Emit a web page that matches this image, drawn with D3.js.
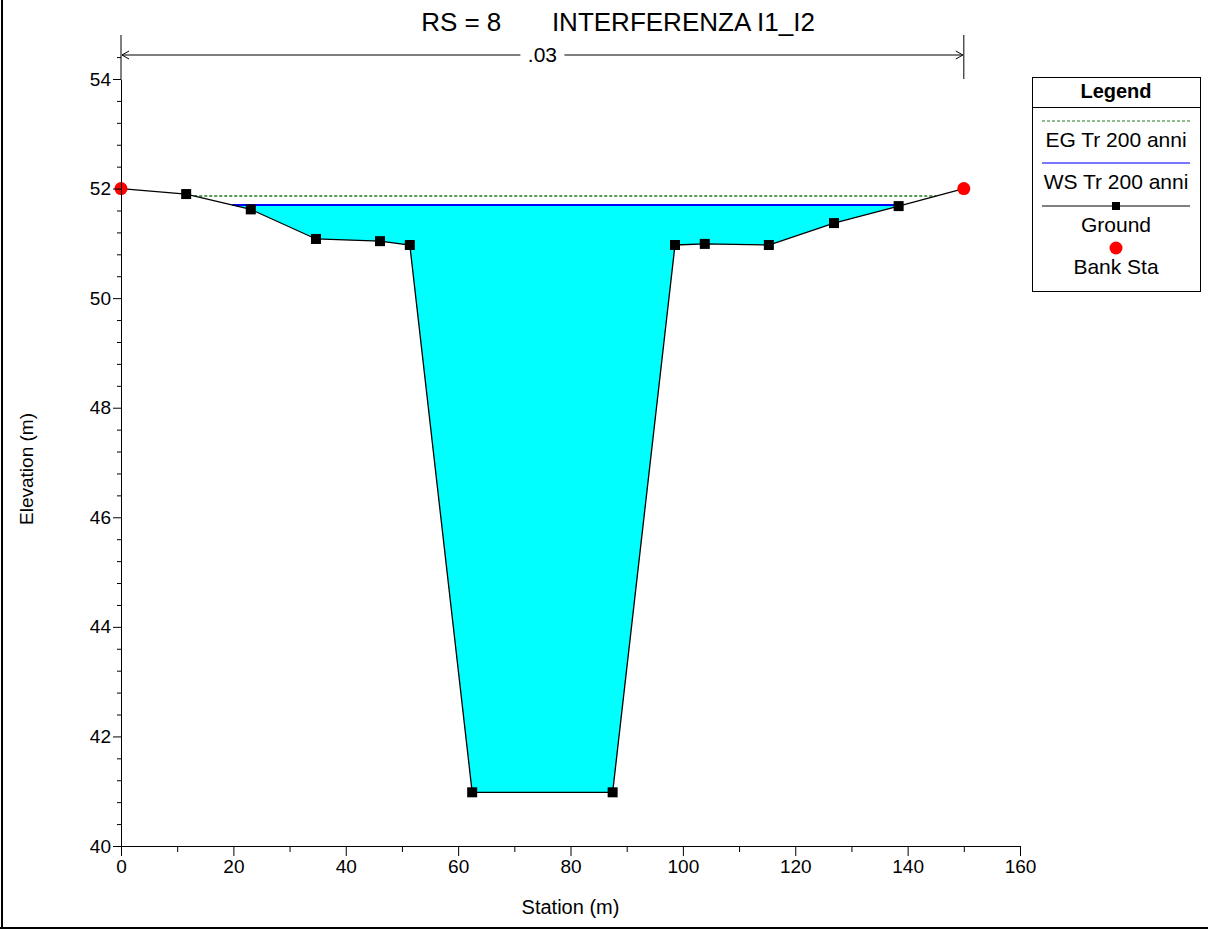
<!DOCTYPE html>
<html>
<head>
<meta charset="utf-8">
<script src="https://cdn.jsdelivr.net/npm/d3@7"></script>
<style>
  body { margin: 0; background: #fff; }
  text { font-family: "Liberation Sans", Arial, sans-serif; }
</style>
</head>
<body>
<svg width="1208" height="930"></svg>
<script>
var svg = d3.select("svg");

// ground profile (station m, elevation m)
var station = [0, 11.6, 23.1, 34.7, 46.1, 51.4, 62.5, 87.5, 98.6, 103.9, 115.3, 126.9, 138.4, 150];
var elevation = [52.0, 51.9, 51.62, 51.08, 51.04, 50.97, 40.98, 40.98, 50.97, 50.99, 50.97, 51.37, 51.68, 52.0];
var bankSta = [0, 150];
var wsElev = 51.70;   // WS Tr 200 anni
var egElev = 51.865;  // EG Tr 200 anni
var nValue = ".03";
var xTicks = [0, 20, 40, 60, 80, 100, 120, 140, 160];
var yTicks = [40, 42, 44, 46, 48, 50, 52, 54];
var legendItems = ["EG Tr 200 anni", "WS Tr 200 anni", "Ground", "Bank Sta"];

var ground = station.map(function(s, i) { return {x: s, y: elevation[i]}; });

var x = d3.scaleLinear().domain([0, 160]).range([121, 1020]);
var y = d3.scaleLinear().domain([40, 54]).range([846, 79]);

// outer frame (left + bottom)
svg.append("line").attr("x1", 2).attr("x2", 2).attr("y1", 0).attr("y2", 929)
  .attr("stroke", "#000").attr("stroke-width", 2);
svg.append("line").attr("x1", 0).attr("x2", 1208).attr("y1", 928).attr("y2", 928)
  .attr("stroke", "#000").attr("stroke-width", 2);

// crossings of a level with the ground, from the left and the right
function crossings(level) {
  var left = null, right = null;
  for (var i = 0; i < ground.length - 1; i++) {
    var a = ground[i], b = ground[i + 1];
    if ((a.y - level) * (b.y - level) <= 0 && a.y !== b.y) {
      var xs = a.x + (level - a.y) / (b.y - a.y) * (b.x - a.x);
      if (left === null) left = {x: xs, i: i};
      right = {x: xs, i: i};
    }
  }
  return [left, right];
}

// water fill
var wc = crossings(wsElev);
var poly = [{x: wc[0].x, y: wsElev}];
for (var i = wc[0].i + 1; i <= wc[1].i; i++) poly.push(ground[i]);
poly.push({x: wc[1].x, y: wsElev});
svg.append("path")
  .attr("d", d3.line().x(function(d) { return x(d.x); }).y(function(d) { return y(d.y); })(poly) + "Z")
  .attr("fill", "#00ffff");

// EG line
var ec = crossings(egElev);
svg.append("line")
  .attr("x1", x(ec[0].x)).attr("x2", x(ec[1].x))
  .attr("y1", y(egElev)).attr("y2", y(egElev))
  .attr("stroke", "#1f7a1f").attr("stroke-width", 1.6).attr("stroke-dasharray", "3,2");

// WS line
svg.append("line")
  .attr("x1", x(wc[0].x)).attr("x2", x(wc[1].x))
  .attr("y1", y(wsElev)).attr("y2", y(wsElev))
  .attr("stroke", "#0000ff").attr("stroke-width", 2);

// ground line
svg.append("path")
  .datum(ground)
  .attr("d", d3.line().x(function(d) { return x(d.x); }).y(function(d) { return y(d.y); }))
  .attr("fill", "none").attr("stroke", "#000").attr("stroke-width", 1.3);

svg.selectAll(".gpt")
  .data(ground.filter(function(d) { return bankSta.indexOf(d.x) < 0; }))
  .enter().append("rect")
    .attr("class", "gpt")
    .attr("x", function(d) { return x(d.x) - 5; })
    .attr("y", function(d) { return y(d.y) - 5; })
    .attr("width", 10).attr("height", 10)
    .attr("fill", "#000");

svg.selectAll(".bank")
  .data(ground.filter(function(d) { return bankSta.indexOf(d.x) >= 0; }))
  .enter().append("circle")
    .attr("cx", function(d) { return x(d.x); })
    .attr("cy", function(d) { return y(d.y); })
    .attr("r", 6.5)
    .attr("fill", "#ff0000");

// axes
var xAxis = svg.append("g").attr("transform", "translate(0," + y(40) + ")")
  .call(d3.axisBottom(x).tickValues(xTicks).tickSize(10).tickSizeOuter(0).tickFormat(d3.format("d")));
svg.append("g").attr("transform", "translate(0," + y(40) + ")")
  .call(d3.axisBottom(x).tickValues(d3.range(10, 160, 20)).tickSize(6).tickFormat(""))
  .select(".domain").remove();

var yAxis = svg.append("g").attr("transform", "translate(" + x(0) + ",0)")
  .call(d3.axisLeft(y).tickValues(yTicks).tickSize(8).tickSizeOuter(0).tickFormat(d3.format("d")));
svg.append("g").attr("transform", "translate(" + x(0) + ",0)")
  .call(d3.axisLeft(y).tickValues(d3.range(40, 54.5, 0.4).filter(function(v) {
      return Math.abs(v / 2 - Math.round(v / 2)) > 0.01; }))
    .tickSize(4).tickFormat(""))
  .select(".domain").remove();

svg.selectAll(".tick text").attr("font-size", 19).attr("font-family", "Liberation Sans, Arial, sans-serif").attr("fill", "#000");
xAxis.selectAll(".tick text").attr("y", 27).attr("dy", 0);
yAxis.selectAll(".tick text").attr("x", -10);
svg.selectAll(".domain, .tick line").attr("stroke", "#000");

// extend left axis up to the n-value bracket
svg.append("line").attr("x1", x(0)).attr("x2", x(0)).attr("y1", 35).attr("y2", y(54))
  .attr("stroke", "#000");

// n-value bracket
var nY = 55, nMid = x((bankSta[0] + bankSta[1]) / 2);
svg.append("line").attr("x1", x(bankSta[1])).attr("x2", x(bankSta[1])).attr("y1", 35).attr("y2", 79)
  .attr("stroke", "#000");
svg.append("line").attr("x1", x(bankSta[0]) + 1).attr("x2", nMid - 22)
  .attr("y1", nY).attr("y2", nY).attr("stroke", "#000");
svg.append("line").attr("x1", nMid + 22).attr("x2", x(bankSta[1]) - 1)
  .attr("y1", nY).attr("y2", nY).attr("stroke", "#000");
svg.append("path")
  .attr("d", "M" + (x(bankSta[0]) + 8) + "," + (nY - 4) + "L" + (x(bankSta[0]) + 1) + "," + nY + "L" + (x(bankSta[0]) + 8) + "," + (nY + 4))
  .attr("fill", "none").attr("stroke", "#000");
svg.append("path")
  .attr("d", "M" + (x(bankSta[1]) - 8) + "," + (nY - 4) + "L" + (x(bankSta[1]) - 1) + "," + nY + "L" + (x(bankSta[1]) - 8) + "," + (nY + 4))
  .attr("fill", "none").attr("stroke", "#000");
svg.append("text").attr("x", nMid).attr("y", nY + 7)
  .attr("text-anchor", "middle").attr("font-size", 21).text(nValue);

// title
svg.append("text").attr("x", 618).attr("y", 31).attr("text-anchor", "middle")
  .attr("font-size", 26).style("white-space", "pre")
  .text("RS = 8       INTERFERENZA I1_I2");

// axis titles
svg.append("text").attr("x", x(80)).attr("y", 914).attr("text-anchor", "middle")
  .attr("font-size", 20).text("Station (m)");
svg.append("text").attr("transform", "translate(33,469) rotate(-90)")
  .attr("text-anchor", "middle").attr("font-size", 19).text("Elevation (m)");

// legend
var lg = svg.append("g");
lg.append("rect").attr("x", 1032.5).attr("y", 77.5).attr("width", 168).attr("height", 214)
  .attr("fill", "#fff").attr("stroke", "#000");
lg.append("line").attr("x1", 1032).attr("x2", 1200).attr("y1", 107.5).attr("y2", 107.5).attr("stroke", "#000");
lg.append("text").attr("x", 1116).attr("y", 98).attr("text-anchor", "middle")
  .attr("font-size", 20).attr("font-weight", "bold").text("Legend");
var lx1 = 1042, lx2 = 1190, lxm = 1116;
lg.append("line").attr("x1", lx1).attr("x2", lx2).attr("y1", 121).attr("y2", 121)
  .attr("stroke", "#1f7a1f").attr("stroke-dasharray", "3,2");
lg.append("line").attr("x1", lx1).attr("x2", lx2).attr("y1", 163).attr("y2", 163)
  .attr("stroke", "#4a4aff").attr("stroke-width", 1.5);
lg.append("line").attr("x1", lx1).attr("x2", lx2).attr("y1", 206).attr("y2", 206)
  .attr("stroke", "#000");
lg.append("rect").attr("x", lxm - 4).attr("y", 202).attr("width", 8).attr("height", 8).attr("fill", "#000");
lg.append("circle").attr("cx", lxm).attr("cy", 248).attr("r", 6.5).attr("fill", "#ff0000");
lg.selectAll(".ltxt").data(legendItems).enter().append("text")
  .attr("x", lxm).attr("y", function(d, i) { return [147, 189, 232, 274][i]; })
  .attr("text-anchor", "middle").attr("font-size", 21).text(function(d) { return d; });
</script>
</body>
</html>
